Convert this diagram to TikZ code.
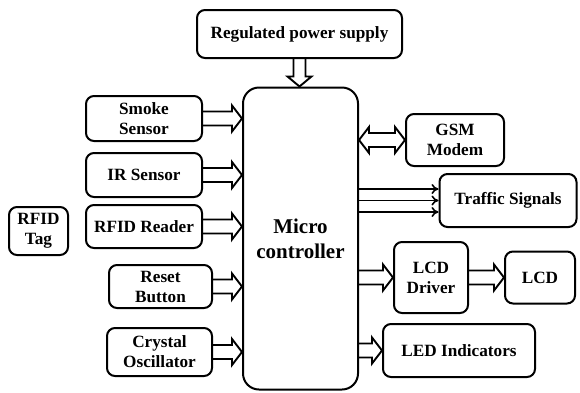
\documentclass[tikz,border=0pt]{standalone}
\usepackage{fontspec}
\setmainfont{Liberation Serif}
\usetikzlibrary{calc,arrows.meta}
\tikzset{
  blk/.style={line width=1.9pt, line join=miter},
  box/.style={draw, line width=2pt, rounded corners=8pt, align=center,
    font=\fontsize{17.2}{20}\selectfont\bfseries, inner sep=0pt},
  mcbox/.style={box, rounded corners=16pt, font=\fontsize{21}{25}\selectfont\bfseries},
  sarrow/.style={line width=1.9pt, -{To[length=7pt,width=10pt,line width=1.6pt]}},
}
\newcommand\rarrow[2]{\draw[blk] let \p1=(#1), \p2=(#2) in
  (\x1,\y1+7pt) -- (\x2-10pt,\y1+7pt) -- (\x2-10pt,\y1+13pt) -- (\x2,\y1)
  -- (\x2-10pt,\y1-13pt) -- (\x2-10pt,\y1-7pt) -- (\x1,\y1-7pt);}
\newcommand\darrow[2]{\draw[blk] let \p1=(#1), \p2=(#2) in
  (\x1+6pt,\y1) -- (\x1+6pt,\y2+10pt) -- (\x1+12pt,\y2+10pt) -- (\x1,\y2)
  -- (\x1-12pt,\y2+10pt) -- (\x1-6pt,\y2+10pt) -- (\x1-6pt,\y1);}
\newcommand\bdarrow[2]{\draw[blk] let \p1=(#1), \p2=(#2) in
  (\x1,\y1) -- (\x1+10pt,\y1+13pt) -- (\x1+10pt,\y1+7pt) -- (\x2-10pt,\y1+7pt)
  -- (\x2-10pt,\y1+13pt) -- (\x2,\y1) -- (\x2-10pt,\y1-13pt) -- (\x2-10pt,\y1-7pt)
  -- (\x1+10pt,\y1-7pt) -- (\x1+10pt,\y1-13pt) -- cycle;}
\begin{document}
\begin{tikzpicture}[x=1pt,y=-1pt]
\useasboundingbox (0,0) rectangle (580,392);
\node[box, minimum width=205pt, minimum height=48pt] (ps) at (299.5,34) {Regulated power supply};
\node[mcbox, minimum width=115pt, minimum height=302pt] (mc) at (300.5,238.5) {Micro\\controller};
\node[box, minimum width=116pt, minimum height=45pt] (smoke) at (144,118.5) {Smoke\\Sensor};
\node[box, minimum width=116pt, minimum height=44pt] (ir) at (144,175) {IR Sensor};
\node[box, minimum width=116pt, minimum height=43pt] (rfidr) at (144,226.5) {RFID Reader};
\node[box, minimum width=59pt, minimum height=48pt] (tag) at (38.5,231) {RFID\\Tag};
\node[box, minimum width=103pt, minimum height=43pt] (reset) at (160.5,286.5) {Reset\\Button};
\node[box, minimum width=105pt, minimum height=48pt] (crystal) at (159.5,352) {Crystal\\Oscillator};
\node[box, minimum width=98pt, minimum height=52pt] (gsm) at (455,140) {GSM\\Modem};
\node[box, minimum width=137pt, minimum height=53pt] (traffic) at (508,200.5) {Traffic Signals};
\node[box, minimum width=74pt, minimum height=71pt] (lcdd) at (431,277.5) {LCD\\Driver};
\node[box, minimum width=70pt, minimum height=52pt] (lcd) at (540,277.5) {LCD};
\node[box, minimum width=152pt, minimum height=53pt] (led) at (459,350.5) {LED Indicators};

\darrow{ps.south}{mc.north}
\rarrow{smoke.east}{mc.west}
\rarrow{ir.east}{mc.west}
\rarrow{rfidr.east}{mc.west}
\rarrow{reset.east}{mc.west}
\rarrow{crystal.east}{mc.west}
\coordinate (g1) at (mc.east |- gsm.west);
\bdarrow{g1}{gsm.west}
\coordinate (t1) at ($(traffic.west)+(0,-11.5)$);
\coordinate (t2) at (traffic.west);
\coordinate (t3) at ($(traffic.west)+(0,11.5)$);
\draw[sarrow] (mc.east |- t1) -- (t1);
\draw[sarrow] (mc.east |- t2) -- (t2);
\draw[sarrow] (mc.east |- t3) -- (t3);
\coordinate (l1) at (mc.east |- lcdd.west);
\rarrow{l1}{lcdd.west}
\rarrow{lcdd.east}{lcd.west}
\coordinate (e1) at (mc.east |- led.west);
\rarrow{e1}{led.west}
\end{tikzpicture}
\end{document}
